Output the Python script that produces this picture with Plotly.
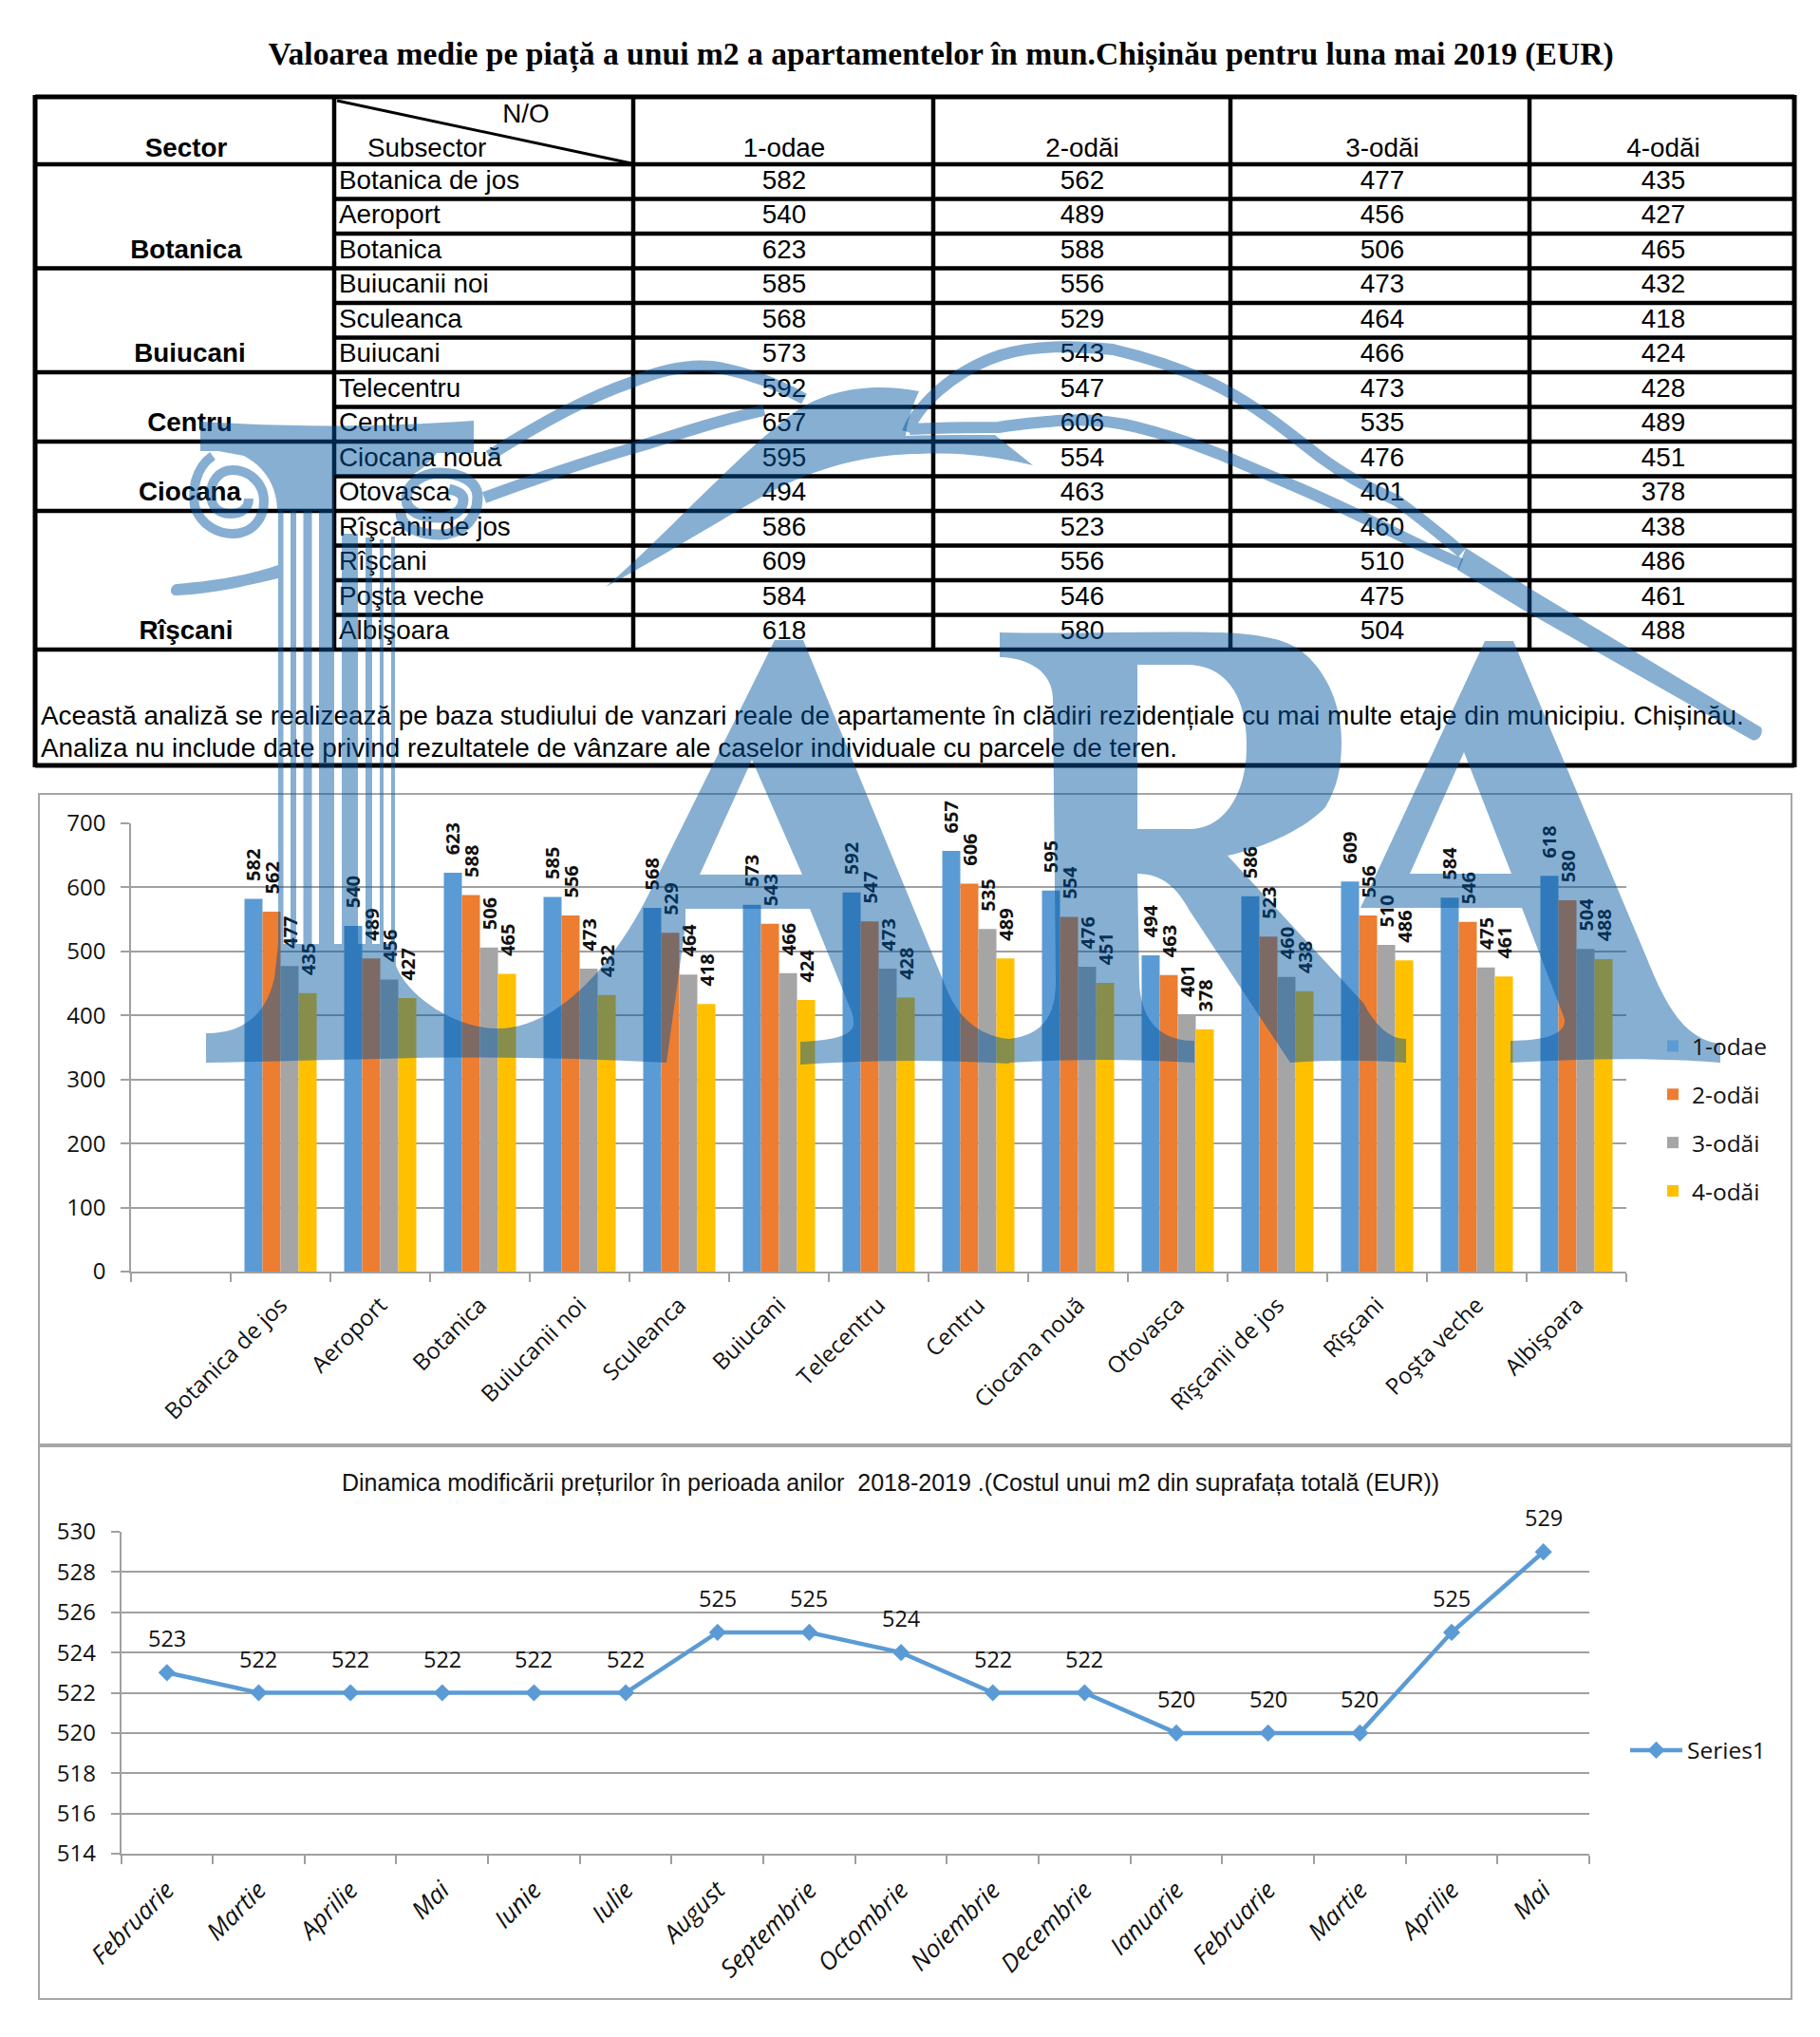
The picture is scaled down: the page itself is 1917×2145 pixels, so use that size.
import plotly.graph_objects as go

# ---------- data ----------
TITLE = "Valoarea medie pe piață a unui m2 a apartamentelor în mun.Chișinău pentru luna mai 2019 (EUR)"
SECTORS = ["Botanica", "Buiucani", "Centru", "Ciocana", "Rîşcani"]
SECTOR_LAST_ROW = [2, 5, 7, 9, 13]
SUBSECTORS = ["Botanica de jos", "Aeroport", "Botanica", "Buiucanii noi", "Sculeanca", "Buiucani",
              "Telecentru", "Centru", "Ciocana nouă", "Otovasca", "Rîşcanii de jos", "Rîşcani",
              "Poşta veche", "Albişoara"]
ROOM_NAMES = ["1-odae", "2-odăi", "3-odăi", "4-odăi"]
ROOM1 = [582, 540, 623, 585, 568, 573, 592, 657, 595, 494, 586, 609, 584, 618]
ROOM2 = [562, 489, 588, 556, 529, 543, 547, 606, 554, 463, 523, 556, 546, 580]
ROOM3 = [477, 456, 506, 473, 464, 466, 473, 535, 476, 401, 460, 510, 475, 504]
ROOM4 = [435, 427, 465, 432, 418, 424, 428, 489, 451, 378, 438, 486, 461, 488]
ROOMS = [ROOM1, ROOM2, ROOM3, ROOM4]
ROOM_COLORS = ["#5B9BD5", "#ED7D31", "#A5A5A5", "#FFC000"]
NOTE1 = "Această analiză se realizează pe baza studiului de vanzari reale de apartamente în clădiri rezidențiale cu mai multe etaje din municipiu. Chișinău."
NOTE2 = "Analiza nu include date privind rezultatele de vânzare ale caselor individuale cu parcele de teren."
MONTHS = ["Februarie", "Martie", "Aprilie", "Mai", "Iunie", "Iulie", "August", "Septembrie", "Octombrie",
          "Noiembrie", "Decembrie", "Ianuarie", "Februarie", "Martie", "Aprilie", "Mai"]
PRICE = [523, 522, 522, 522, 522, 522, 525, 525, 524, 522, 522, 520, 520, 520, 525, 529]
TITLE2 = "Dinamica modificării prețurilor în perioada anilor  2018-2019 .(Costul unui m2 din suprafața totală (EUR))"

# ---------- layout constants ----------
W, H = 1917, 2145
SANS = "Liberation Sans"
CHART = "Open Sans"
GRID = "#A0A0A0"
TXT = "#111111"
COLS = [37, 352, 667, 983, 1296, 1611, 1890]
COL_C = [826, 1140, 1456, 1752]
T_TOP, T_HEAD, ROW_H, T_BOT = 102, 173, 36.5, 806
row_line = lambda k: T_HEAD + ROW_H * k
row_mid = lambda k: T_HEAD + ROW_H * (k + 0.5) + 0.5

fig = go.Figure()

# ---------- bar chart ----------
for name, vals, col in zip(ROOM_NAMES, ROOMS, ROOM_COLORS):
    fig.add_trace(go.Bar(
        x=list(range(1, len(vals) + 1)), y=vals, name=name, marker=dict(color=col, line_width=0),
        texttemplate="\u00a0\u00a0\u00a0%{y}", textposition="outside", textangle=-90, cliponaxis=False,
        constraintext="none", textfont=dict(family=CHART, size=20, color="#111111", weight=700),
        legendgroup=name, legend="legend", xaxis="x", yaxis="y"))

# ---------- line chart ----------
fig.add_trace(go.Scatter(
    x=list(range(len(PRICE))), y=PRICE, mode="lines+markers", name="Series1",
    line=dict(color="#5B9BD5", width=4.5), marker=dict(symbol="diamond", size=14, color="#5B9BD5"),
    legend="legend2", xaxis="x2", yaxis="y2"))
for i, v in enumerate(PRICE):
    fig.add_annotation(x=i, y=v, xref="x2", yref="y2", text=str(v), showarrow=False, yshift=36,
                       font=dict(family=CHART, size=23.5, color=TXT))

# ---------- table text (drawn below the watermark) ----------
def text_trace(x, y, text, pos="middle center", size=27.8, weight=400, family=SANS, color="#000000"):
    fig.add_trace(go.Scatter(x=x, y=y, text=text, mode="text", textposition=pos, showlegend=False,
                             textfont=dict(family=family, size=size, color=color, weight=weight),
                             xaxis="x3", yaxis="y3", hoverinfo="skip", cliponaxis=False))

text_trace([196], [158], ["Sector"], weight=700)
text_trace([554], [122], ["N/O"])
text_trace([387], [158], ["Subsector"], pos="middle right")
text_trace(COL_C, [158] * 4, ROOM_NAMES)
sector_x = [196, 200, 200, 200, 196]
text_trace(sector_x, [row_mid(k) for k in SECTOR_LAST_ROW], SECTORS, weight=700)
text_trace([357] * len(SUBSECTORS), [row_mid(k) for k in range(len(SUBSECTORS))], SUBSECTORS, pos="middle right")
for cx, vals in zip(COL_C, ROOMS):
    text_trace([cx] * len(vals), [row_mid(k) for k in range(len(vals))], vals)
text_trace([43, 43], [756, 790], [NOTE1, NOTE2], pos="middle right", size=27.9)

# ---------- shapes ----------
shapes = []
def seg(x0, y0, x1, y1, w=4.5, color="#000000"):
    shapes.append(dict(type="line", xref="x3", yref="y3", x0=x0, y0=y0, x1=x1, y1=y1, layer="above",
                       line=dict(color=color, width=w)))

# chart frames
for y0, y1 in [(836, 1521), (1523, 2105)]:
    shapes.append(dict(type="rect", xref="x3", yref="y3", x0=41, x1=1887, y0=y0, y1=y1, layer="above",
                       line=dict(color="#A6A6A6", width=2)))
# table lines
seg(COLS[0], T_TOP, COLS[-1], T_TOP, 5)
seg(COLS[0], T_BOT, COLS[-1], T_BOT, 5)
seg(COLS[0], T_TOP - 2, COLS[0], T_BOT + 2, 5)
seg(COLS[-1], T_TOP - 2, COLS[-1], T_BOT + 2, 5)
for c in COLS[1:-1]:
    seg(c, T_TOP, c, row_line(14))
seg(COLS[0], T_HEAD, COLS[-1], T_HEAD)
for k in range(1, 15):
    seg(COLS[0] if (k - 1) in SECTOR_LAST_ROW else COLS[1], row_line(k), COLS[-1], row_line(k))
seg(355, 106, 665, 172, 3)

# watermark
WM = "rgb(0,84,160)"
WM_OP = 0.47
def wm_fill(path):
    shapes.append(dict(type="path", xref="x3", yref="y3", path=path, fillcolor=WM, opacity=WM_OP,
                       line=dict(width=0), layer="above"))
def wm_stroke(path, w):
    shapes.append(dict(type="path", xref="x3", yref="y3", path=path, fillcolor="rgba(0,0,0,0)", opacity=WM_OP,
                       line=dict(color=WM, width=w), layer="above"))

# first A with column base and arch
wm_fill("M816,674 L846,674 L999,1046 C1012,1075 1035,1092 1063,1094 L1063,1120 C990,1116 920,1116 843,1121 L843,1097 "
        "C870,1096 899,1092 899,1078 C899,1072 898,1068 896,1063 L853,957 L722,957 L722,974 L702,1119 "
        "C600,1114 500,1112 400,1115 C340,1116 280,1118 217,1119 L217,1088 C255,1088 280,1070 289,1030 "
        "L293,994 L417,994 L417,1017 C430,1050 480,1083 524,1083 C590,1083 650,1010 685,938 Z "
        "M737,921 L845,921 L792,800 Z")
# R
wm_fill("M1053,666 C1130,668 1210,664 1287,666 C1325,668 1350,672 1367,683 C1395,702 1413,740 1413,781 "
        "C1413,810 1408,830 1396,850 C1378,870 1335,892 1293,901 L1436,1056 C1448,1078 1462,1094 1481,1094 "
        "L1481,1119 C1440,1116 1400,1116 1359,1119 L1253,959 C1240,935 1224,920 1198,920 L1200,1033 "
        "C1201,1072 1220,1096 1258,1096 L1258,1119 C1190,1115 1130,1115 1063,1119 L1063,1094 "
        "C1098,1090 1112,1070 1112,1033 L1109,735 C1108,708 1085,693 1053,692 Z "
        "M1198,700 L1253,700 C1290,702 1313,730 1313,786 C1313,835 1290,873 1253,873 L1198,873 Z")
# second A
wm_fill("M1564,675 L1594,675 L1735,1010 C1755,1060 1775,1095 1812,1099 L1812,1119 C1740,1113 1665,1115 1591,1119 "
        "L1591,1096 C1625,1096 1650,1090 1648,1073 L1603,956 L1433,956 Z M1485,920 L1592,920 L1542,792 Z")
# capital of the column
wm_fill("M211,444 C310,450 400,450 499,443 L499,477 C480,477 470,477 460,477 C450,490 440,498 433,500 L352,500 L352,538 "
        "L292,538 C292,520 285,495 257,480 L230,475 L211,475 Z")
# flutes of the column
for x0, x1, y0 in [(293, 298.5, 538), (306, 312, 538), (319.5, 328.5, 538), (336, 352, 538),
                   (360, 377, 562), (385, 392, 566), (400, 404, 568), (412, 416, 565)]:
    wm_fill(f"M{x0},{y0} L{x1},{y0} L{x1},994 L{x0},994 Z")
# scroll end to the left
wm_fill("M293,595 C255,608 220,612 186,615 C178,616 178,628 186,627 C225,625 260,617 293,609 Z")
# bird body
wm_fill("M638,618 C700,565 785,470 840,432 C870,412 915,402 968,412 C962,425 955,445 954,459 "
        "C985,458 1020,458 1048,458 L1088,490 C1050,480 1010,476 968,478 C920,478 860,490 801,524 C750,553 690,590 638,618 Z")
# tapered end of the two long lines
wm_fill("M1544,577 L1612,620 L1855,766 C1858,772 1852,782 1845,779 L1604,642 L1535,600 Z")
# volutes and long lines, stroked as one path so that crossings stay a single tone
wm_stroke("M224,480 C204,494 203,518 205,533 C212,555 232,562 245,562 C266,562 278,546 278,528 "
          "C278,508 262,495 245,495 C230,495 222,508 222,520 C222,535 232,541 243,541 C255,541 262,535 262,525", 10)
wm_stroke("M473,515 C482,517 488,520 488,526 C488,538 476,545 463,545 C443,545 428,538 428,526 "
          "C428,510 445,498 463,498 C485,498 503,507 503,523 C503,548 485,563 463,563 C442,563 422,555 422,540", 11)
wm_stroke("M515,480 C570,445 620,418 664,403 C690,392 720,383 750,386 C790,392 820,405 847,420 "
          "M510,524 C570,502 630,482 680,468 C720,455 760,442 805,432", 12)
wm_stroke("M956,455 C965,430 1000,392 1054,374 C1090,363 1130,364 1172,368 C1215,378 1255,392 1289,410 "
          "C1330,432 1360,458 1393,483 C1420,503 1445,515 1471,527 C1500,548 1520,565 1540,582 "
          "M958,452 C990,450 1020,450 1052,450 C1075,446 1095,445 1114,443 C1145,441 1170,443 1198,450 "
          "C1230,458 1265,470 1296,483 C1340,502 1380,518 1419,537 C1460,556 1505,580 1539,594", 12)

# ---------- figure layout ----------
axis_font = dict(family=CHART, size=24, color=TXT)
fig.update_layout(
    width=W, height=H, autosize=False, margin=dict(l=0, r=0, t=0, b=0, pad=0, autoexpand=False),
    paper_bgcolor="white", plot_bgcolor="rgba(0,0,0,0)",
    barmode="group", bargap=0.276, bargroupgap=0,
    title=dict(text=TITLE, x=991 / W, xref="paper", y=1 - 56 / H, yref="paper", xanchor="center", yanchor="middle",
               font=dict(family="Liberation Serif", size=33.6, color="#000000", weight=700)),
    xaxis=dict(domain=[138 / W, 1713 / W], range=[-0.5, 14.5], anchor="y", tickmode="array", automargin=False,
               tickvals=list(range(1, 15)), ticktext=SUBSECTORS, tickangle=-45, ticks="", showgrid=False,
               showline=True, linecolor=GRID, linewidth=1.5, tickfont=dict(family=CHART, size=24, color=TXT),
               ticklabelstandoff=10, zeroline=False,
               minor=dict(tickmode="array", tickvals=[k - 0.5 for k in range(16)], ticks="outside",
                          ticklen=9, tickwidth=1.5, tickcolor=GRID, showgrid=False)),
    yaxis=dict(domain=[1 - 1339 / H, 1 - 867 / H], range=[0, 700], anchor="x", tickmode="array", automargin=False,
               tickvals=list(range(0, 701, 100)), ticks="outside", ticklen=9, tickwidth=1.5, tickcolor=GRID,
               gridcolor=GRID, gridwidth=1.5, showline=True, linecolor=GRID, linewidth=1.5,
               tickfont=axis_font, ticklabelstandoff=11, zeroline=False),
    xaxis2=dict(domain=[127.5 / W, 1674 / W], range=[-0.5, 15.5], anchor="y2", tickmode="array", automargin=False,
                tickvals=list(range(16)), ticktext=MONTHS, tickangle=-45, ticks="", showgrid=False,
                showline=True, linecolor=GRID, linewidth=1.5,
                tickfont=dict(family=CHART, size=26, color=TXT, style="italic"),
                ticklabelstandoff=11, zeroline=False,
                minor=dict(tickmode="array", tickvals=[k - 0.5 for k in range(17)], ticks="outside",
                           ticklen=9, tickwidth=1.5, tickcolor=GRID, showgrid=False)),
    yaxis2=dict(domain=[1 - 1952 / H, 1 - 1613 / H], range=[514, 530], anchor="x2", tickmode="array", automargin=False,
                tickvals=list(range(514, 531, 2)), ticks="outside", ticklen=9, tickwidth=1.5, tickcolor=GRID,
                gridcolor=GRID, gridwidth=1.5, showline=True, linecolor=GRID, linewidth=1.5,
                tickfont=axis_font, ticklabelstandoff=11, zeroline=False),
    xaxis3=dict(domain=[0, 1], range=[0, W], visible=False, anchor="y3", fixedrange=True, automargin=False),
    yaxis3=dict(domain=[0, 1], range=[H, 0], visible=False, anchor="x3", fixedrange=True, automargin=False),
    legend=dict(x=1742 / W, y=1 - 1079 / H, xanchor="left", yanchor="top", tracegroupgap=16,
                font=dict(family=CHART, size=24.5, color=TXT), bgcolor="rgba(0,0,0,0)"),
    legend2=dict(x=1712 / W, y=1 - 1843 / H, xanchor="left", yanchor="middle", itemwidth=55,
                 font=dict(family=CHART, size=24.5, color=TXT), bgcolor="rgba(0,0,0,0)"),
    shapes=shapes,
    showlegend=True,
)
fig.add_annotation(x=938 / W, y=1 - 1561 / H, xref="paper", yref="paper", text=TITLE2, showarrow=False,
                   xanchor="center", yanchor="middle", font=dict(family=SANS, size=25, color=TXT))

fig.write_html("out.html", config=dict(displayModeBar=False),
               post_script="document.body.style.margin='0';document.body.style.overflow='hidden';")
